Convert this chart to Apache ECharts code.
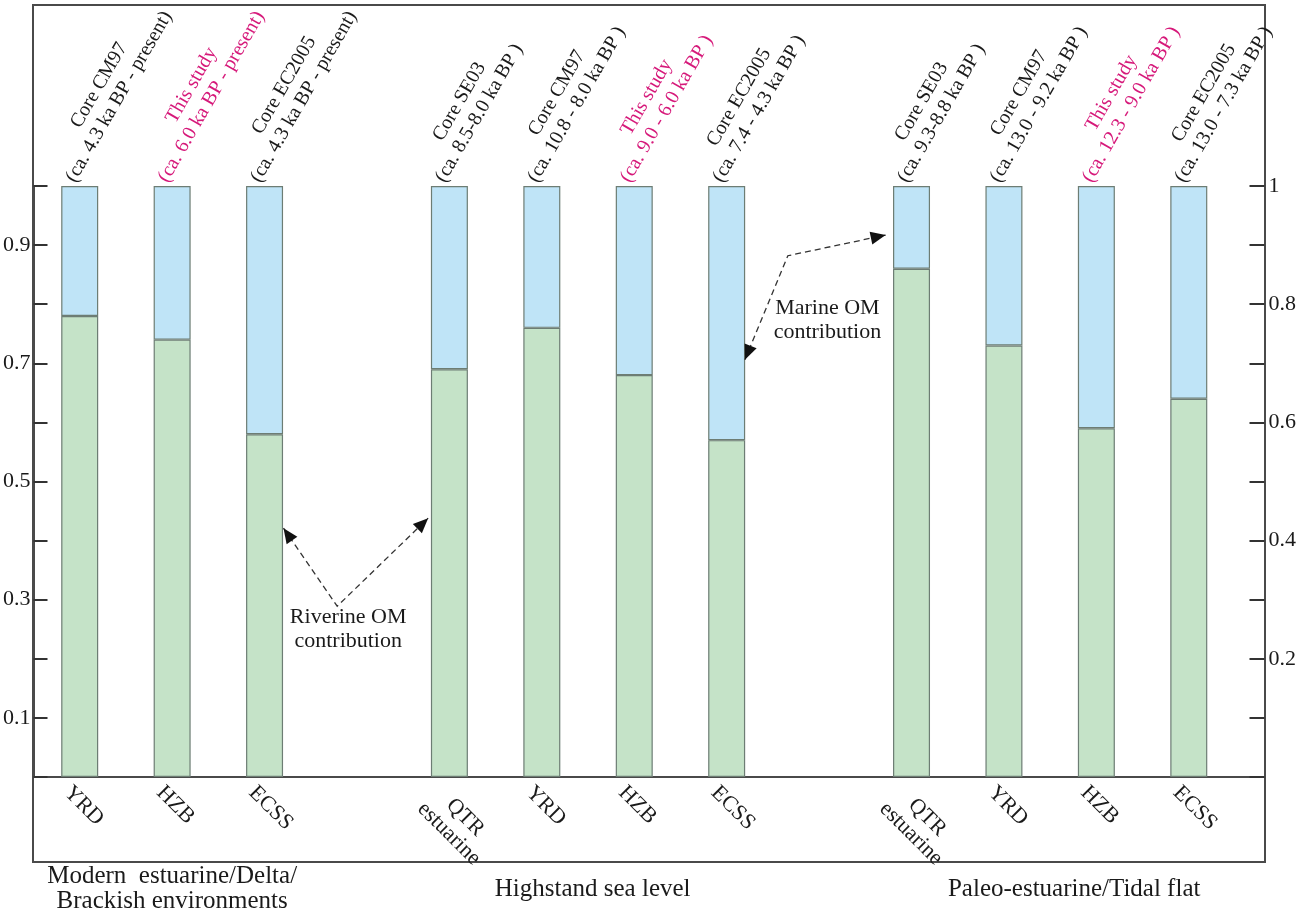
<!DOCTYPE html>
<html><head><meta charset="utf-8">
<script src="https://cdn.jsdelivr.net/npm/echarts@6/dist/echarts.min.js"></script>
<style>html,body{margin:0;padding:0;background:#fff}#c{width:1299px;height:912px}</style>
</head><body><div id="c"></div>
<script>
// ---------- data ----------
const categories = ['YRD','HZB','ECSS','','QTR\nestuarine','YRD','HZB','ECSS','','QTR\nestuarine','YRD','HZB','ECSS'];
const coreNames = ['Core CM97','This study','Core EC2005','','Core SE03','Core CM97','This study','Core EC2005','','Core SE03','Core CM97','This study','Core EC2005'];
const coreAges = ['(ca. 4.3 ka BP - present)','(ca. 6.0 ka BP - present)','(ca. 4.3 ka BP - present)','',
  '(ca. 8.5-8.0 ka BP )','(ca. 10.8 - 8.0 ka BP )','(ca. 9.0 - 6.0 ka BP )','(ca. 7.4 - 4.3 ka BP )','',
  '(ca. 9.3-8.8 ka BP )','(ca. 13.0 - 9.2 ka BP )','(ca. 12.3 - 9.0 ka BP )','(ca. 13.0 - 7.3 ka BP )'];
const isThisStudy = [false,true,false,false,false,false,true,false,false,false,false,true,false];
const riverine = [0.78,0.74,0.58,null,0.69,0.76,0.68,0.57,null,0.86,0.73,0.59,0.64];
const marine   = [0.22,0.26,0.42,null,0.31,0.24,0.32,0.43,null,0.14,0.27,0.41,0.36];
const leftTickLabels = ['0.1','0.3','0.5','0.7','0.9'];
const rightTickLabels = ['0.2','0.4','0.6','0.8','1'];
const groupLabels = ['Modern  estuarine/Delta/\nBrackish environments','Highstand sea level','Paleo-estuarine/Tidal flat'];
const annotationTexts = ['Riverine OM\ncontribution','Marine OM\ncontribution'];

// ---------- chart ----------
const FONT = '"Liberation Serif", "Times New Roman", serif';
const INK = '#1a1a1a';
const MAGENTA = '#d6197a';
const FRAME = '#4a4a4a';
const chart = echarts.init(document.getElementById('c'), null, {renderer: 'canvas'});

const barBorder = {borderColor: '#6d7d74', borderWidth: 1.2};

chart.setOption({
  animation: false,
  backgroundColor: '#ffffff',
  grid: [
    {left: 33, right: 63.5, top: 186, bottom: 135, containLabel: false},
    {left: 33, right: 34, top: 5, bottom: 135, show: true, borderColor: FRAME, borderWidth: 2, backgroundColor: 'transparent'},
    {left: 33, right: 34, top: 777, bottom: 50, show: true, borderColor: FRAME, borderWidth: 2, backgroundColor: 'transparent'}
  ],
  xAxis: [
    {type: 'category', gridIndex: 0, data: categories,
     axisLine: {show: false}, axisTick: {show: false},
     axisLabel: {interval: 0, rotate: -45, margin: 0, align: 'left', verticalAlign: 'top', padding: [6,0,0,0],
       fontFamily: FONT, fontSize: 22, color: INK, lineHeight: 23,
       formatter: v => v.split('\n').map(s => '{c|' + s + '}').join('\n'),
       rich: {c: {align: 'center', fontFamily: FONT, fontSize: 22, color: INK, lineHeight: 23}}}},
    {type: 'value', gridIndex: 1, show: false},
    {type: 'value', gridIndex: 2, show: false}
  ],
  yAxis: [
    {type: 'value', gridIndex: 0, min: 0, max: 1, interval: 0.1, position: 'left',
     axisLine: {show: true, lineStyle: {color: FRAME, width: 2}},
     axisTick: {show: true, inside: true, length: 14, lineStyle: {color: '#333', width: 2}},
     splitLine: {show: false},
     axisLabel: {margin: 3, fontFamily: FONT, fontSize: 22, color: INK,
       formatter: v => { const s = v.toFixed(1); return leftTickLabels.includes(s) ? s : ''; }}},
    {type: 'value', gridIndex: 0, min: 0, max: 1, interval: 0.1, position: 'right', offset: 29.5,
     axisLine: {show: true, lineStyle: {color: FRAME, width: 2}},
     axisTick: {show: true, inside: true, length: 15, lineStyle: {color: '#333', width: 2}},
     splitLine: {show: false},
     axisLabel: {margin: 4, fontFamily: FONT, fontSize: 22, color: INK,
       formatter: v => { const s = String(Math.round(v * 10) / 10); return rightTickLabels.includes(s) ? s : ''; }}},
    {type: 'value', gridIndex: 1, show: false},
    {type: 'value', gridIndex: 2, show: false}
  ],
  series: [
    {name: 'Riverine OM', type: 'bar', stack: 'om', xAxisIndex: 0, yAxisIndex: 0, barWidth: 37,
     itemStyle: Object.assign({color: '#c5e3c8'}, barBorder), data: riverine},
    {name: 'Marine OM', type: 'bar', stack: 'om', xAxisIndex: 0, yAxisIndex: 0, barWidth: 37,
     itemStyle: Object.assign({color: '#bfe4f7'}, barBorder), data: marine,
     label: {show: true, position: 'top', distance: 0, rotate: 60, align: 'left', verticalAlign: 'bottom', offset: [0, 1],
       formatter: p => { const i = p.dataIndex; const st = isThisStudy[i] ? 'm' : 'k';
         return '{' + st + '|' + coreNames[i] + '}\n{' + st + '|' + coreAges[i] + '}'; },
       rich: {
         k: {align: 'center', color: INK, fontFamily: FONT, fontSize: 20, lineHeight: 23},
         m: {align: 'center', color: MAGENTA, fontFamily: FONT, fontSize: 20, lineHeight: 23}
       }}}
  ]
});

// ---------- annotations (positioned through the axes) ----------
function P(slot, v) {
  const x0 = chart.convertToPixel({xAxisIndex: 0}, 0);
  const x1 = chart.convertToPixel({xAxisIndex: 0}, 1);
  return [x0 + slot * (x1 - x0), chart.convertToPixel({yAxisIndex: 0}, v)];
}
function head(tip, from) {
  const len = 15, half = 6.5;
  const dx = tip[0] - from[0], dy = tip[1] - from[1];
  const L = Math.hypot(dx, dy), ux = dx / L, uy = dy / L;
  const bx = tip[0] - ux * len, by = tip[1] - uy * len;
  return {type: 'polygon', z: 100, shape: {points: [tip, [bx - uy * half, by + ux * half], [bx + uy * half, by - ux * half]]},
          style: {fill: '#111'}};
}
function dashed(points) {
  return {type: 'polyline', z: 99, shape: {points: points}, style: {stroke: '#333', lineWidth: 1.3, lineDash: [6, 4], fill: null}};
}
function label(text, pt) {
  return {type: 'text', z: 100, x: pt[0], y: pt[1],
    style: {text: text, fontFamily: FONT, fontSize: 22, fill: INK, align: 'center', verticalAlign: 'middle',
            textAlign: 'center', textVerticalAlign: 'middle', lineHeight: 24}};
}
const g = [];
// Riverine arrows
const rApex = P(2.786, 0.289), rL = P(2.205, 0.421), rR = P(3.77, 0.438);
g.push(dashed([rL, rApex, rR]), head(rL, rApex), head(rR, rApex));
g.push(label(annotationTexts[0], P(2.905, 0.250)));
// Marine arrows
const mL = P(7.197, 0.706), mC = P(7.662, 0.882), mR = P(8.72, 0.917);
g.push(dashed([mL, mC, mR]), head(mL, mC), head(mR, mC));
g.push(label(annotationTexts[1], P(8.09, 0.773)));
// group labels under the axis box (centred under their bar groups)
const groupCenterSlots = [1, 5.55, 10.76];
for (let i = 0; i < groupLabels.length; i++) {
  const c = P(groupCenterSlots[i], 0);
  g.push({type: 'text', z: 100, x: c[0], y: 889,
    style: {text: groupLabels[i], fontFamily: FONT, fontSize: 25, fill: INK, align: 'center', verticalAlign: 'middle',
            textAlign: 'center', textVerticalAlign: 'middle', lineHeight: 25}});
}
chart.setOption({graphic: g});
</script>
</body></html>
